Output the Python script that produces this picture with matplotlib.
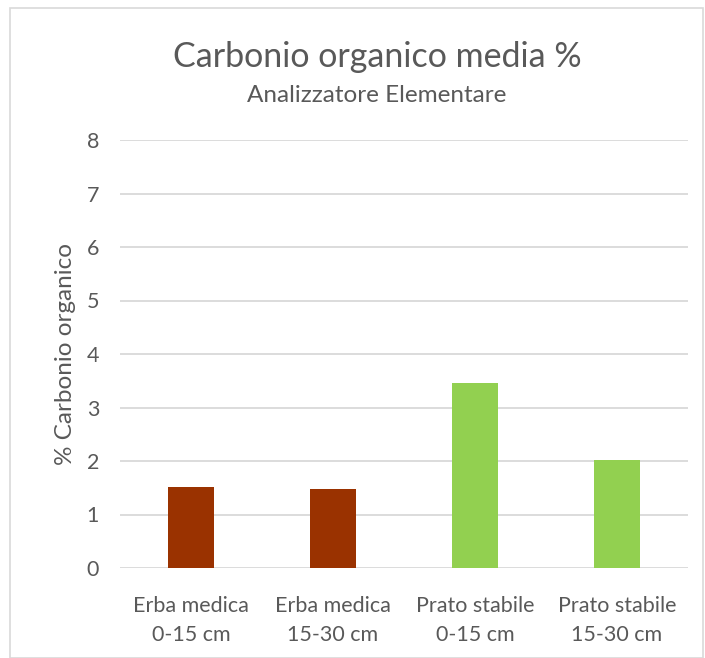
import matplotlib.pyplot as plt
from matplotlib.patches import Rectangle

plt.rcParams['font.family'] = ['Lato', 'DejaVu Sans']

categories = ['Erba medica\n0-15 cm', 'Erba medica\n15-30 cm',
              'Prato stabile\n0-15 cm', 'Prato stabile\n15-30 cm']
carbonio = [1.52, 1.48, 3.45, 2.01]
colori = ['#9A3200', '#9A3200', '#92D050', '#92D050']
yticks = [0, 1, 2, 3, 4, 5, 6, 7, 8]

W, H = 705, 658
fig = plt.figure(figsize=(W / 100, H / 100), dpi=100)

# cornice grigia chiara attorno al grafico
fig.patches.append(Rectangle((10 / W, 0), (W - 12) / W, (H - 8) / H,
                             transform=fig.transFigure, fill=False,
                             edgecolor='#D9D9D9', linewidth=1.2))

ax = fig.add_axes([120 / W, 1 - 568 / H, 568 / W, 428 / H])
ax.bar(range(len(categories)), carbonio, width=0.32, color=colori, zorder=3)

ax.set_xlim(-0.5, 3.5)
ax.set_ylim(0, 8)
ax.set_yticks(yticks)
ax.set_xticks(range(len(categories)))
ax.set_xticklabels(categories, fontsize=15.5, color='#595959', linespacing=1.55)
ax.tick_params(axis='both', length=0, colors='#595959', labelsize=15.5)
ax.tick_params(axis='y', pad=15)
ax.tick_params(axis='x', pad=20)
ax.grid(axis='y', color='#D9D9D9', linewidth=1.3, zorder=0)
for s in ax.spines.values():
    s.set_visible(False)

ax.set_ylabel('% Carbonio organico', fontsize=17.5, color='#595959', labelpad=8)

fig.text(377 / W, 1 - 57 / H, 'Carbonio organico media %', ha='center', va='center',
         fontsize=24.5, color='#595959')
fig.text(377 / W, 1 - 95 / H, 'Analizzatore Elementare', ha='center', va='center',
         fontsize=17.5, color='#595959')

fig.savefig('out.png', dpi=100)
